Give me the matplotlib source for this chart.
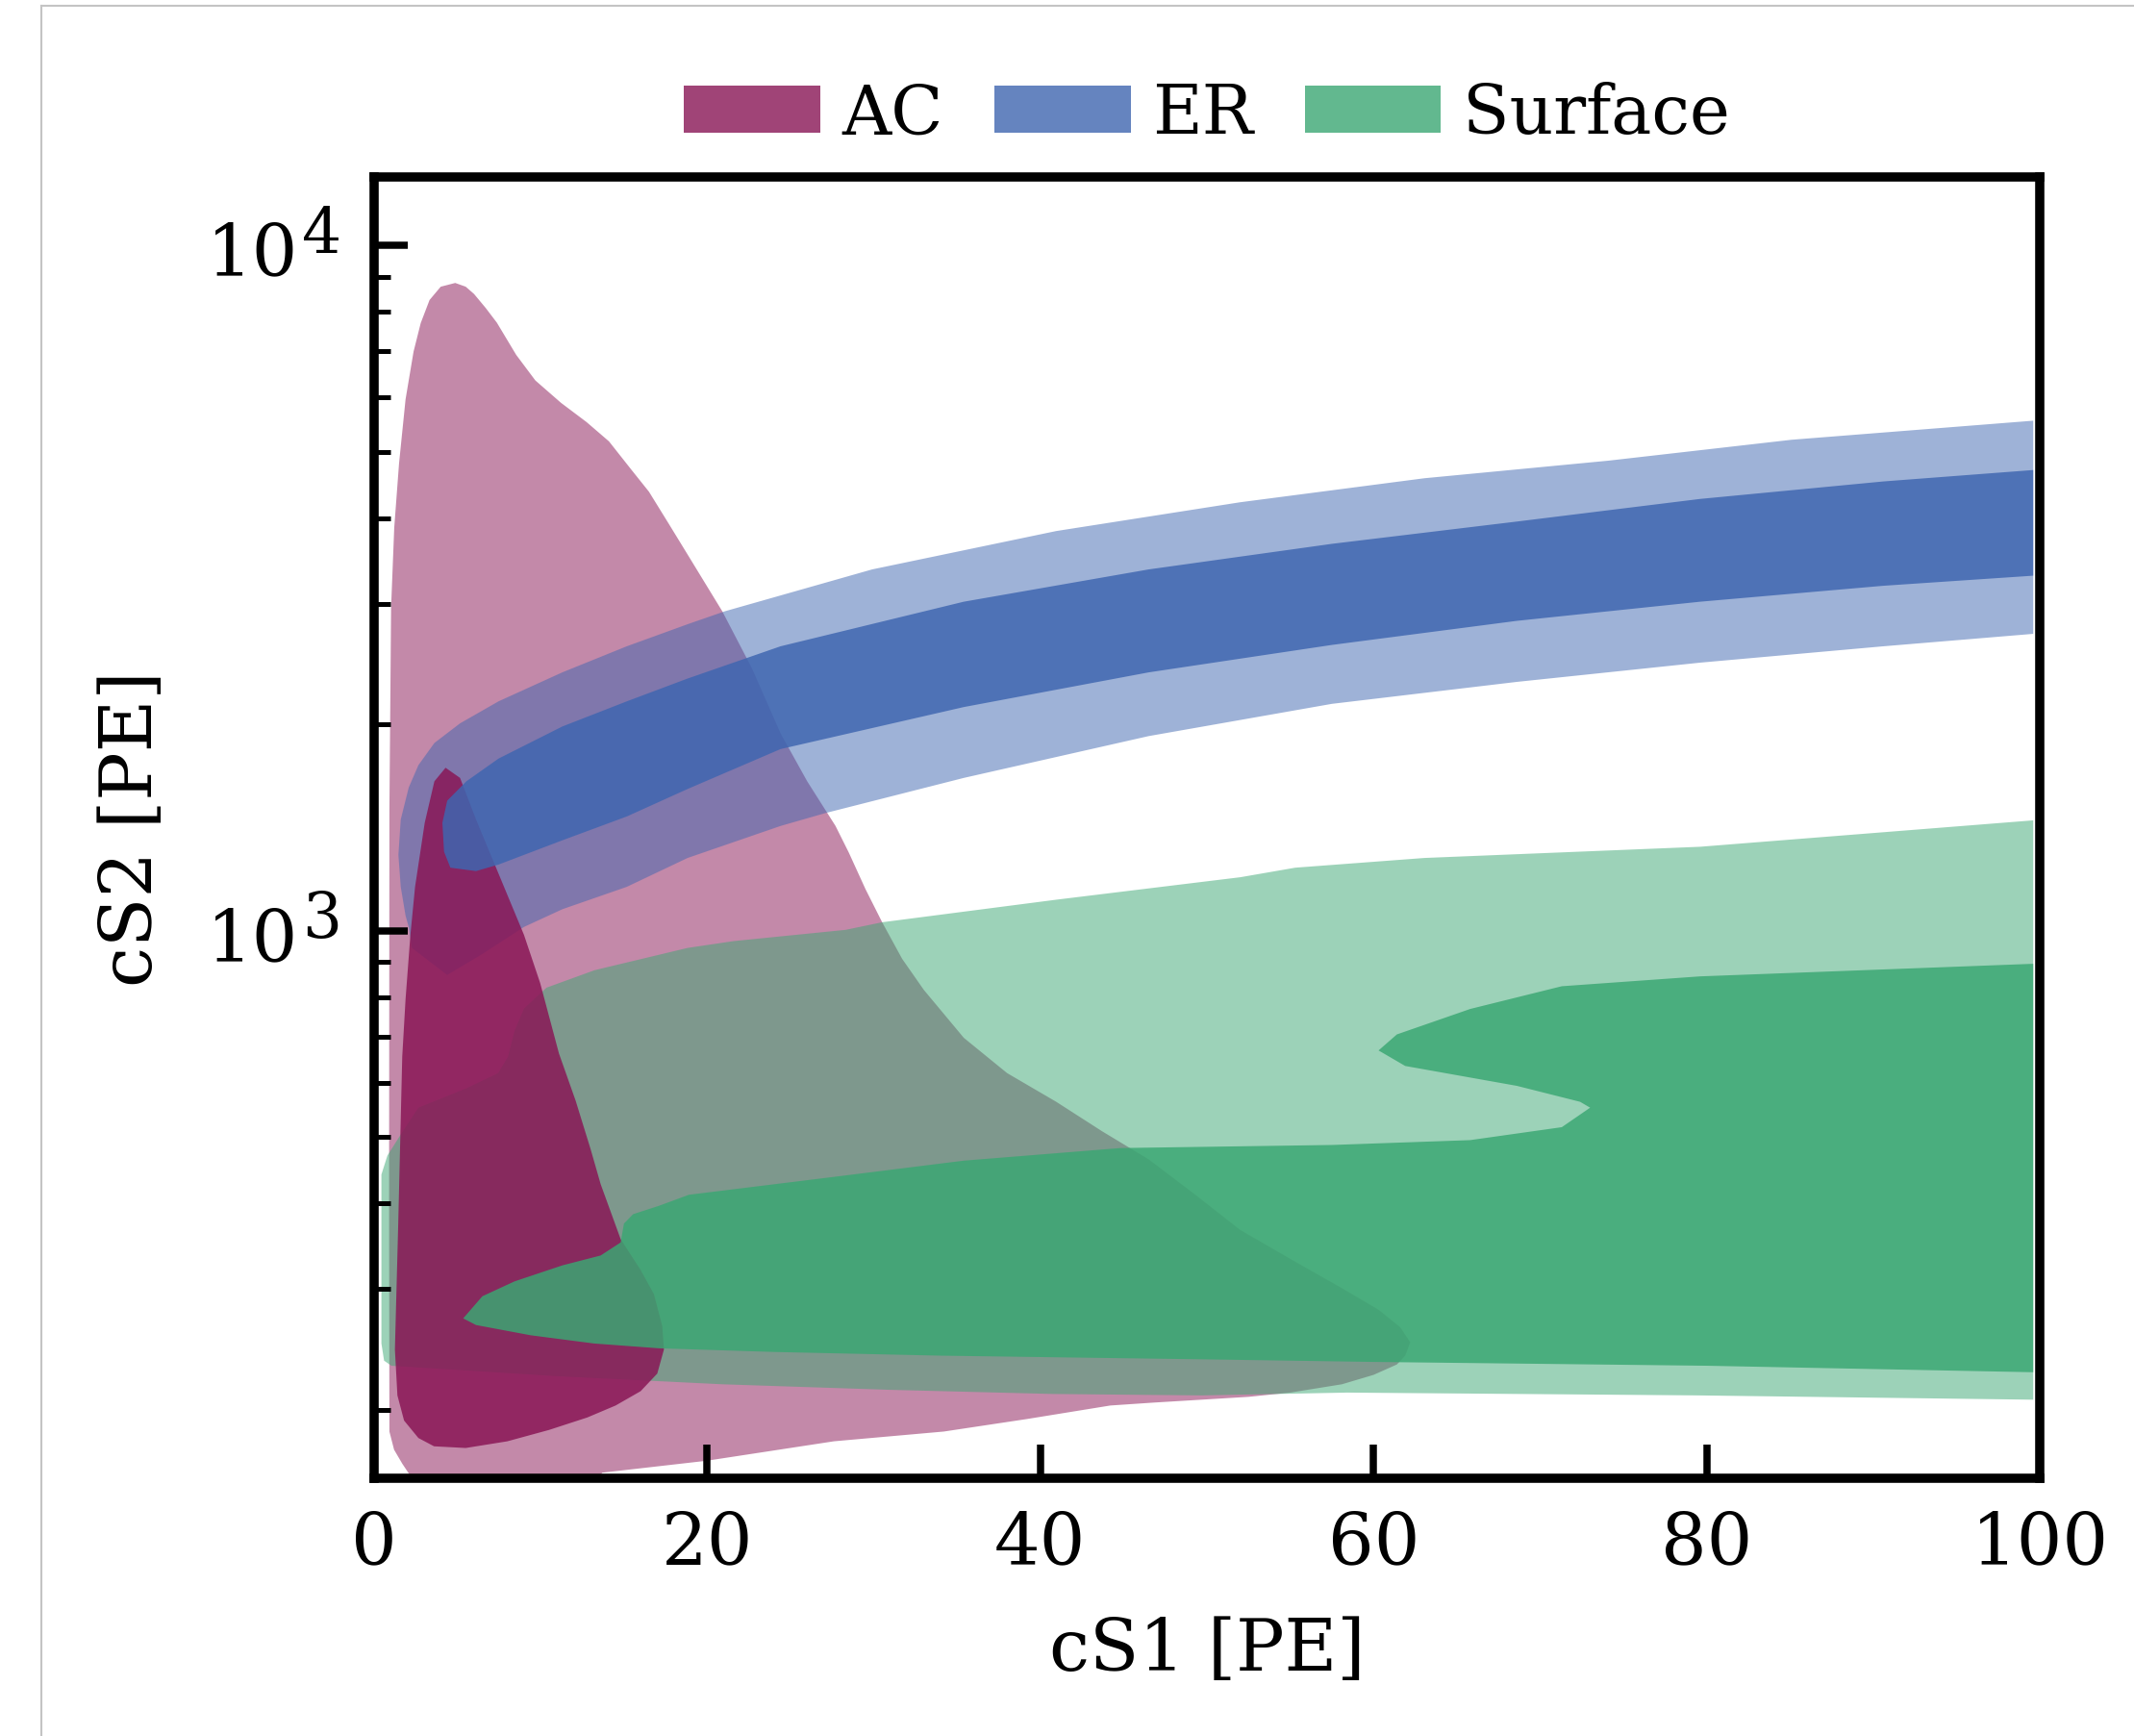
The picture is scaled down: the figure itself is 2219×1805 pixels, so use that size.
import matplotlib.pyplot as plt
from matplotlib.lines import Line2D
from matplotlib.patches import Patch
from matplotlib.ticker import NullFormatter

plt.rcParams['font.family'] = 'DejaVu Serif'
plt.rcParams['mathtext.fontset'] = 'dejavuserif'

# --- contour outlines (cS1 [PE], cS2 [PE]) ---
ac_outer_cs1 = [4.87, 5.5, 6.0, 6.7, 7.37, 8.53, 9.68, 11.22, 12.76, 14.1, 15.46, 16.5,
                17.7, 18.9, 20.9, 22.7, 24.4, 26.0, 27.7, 28.5, 29.5, 30.5, 31.7, 33.0,
                35.4, 38.0, 40.95, 43.7, 46.5, 49.3, 52.0, 55.3, 58.0, 60.3, 61.6, 62.2,
                61.9, 61.4, 60.0, 58.1, 55.0, 52.5, 46.8, 44.2, 39.2, 34.2, 27.6, 19.95,
                13.7, 12.5, 3.0, 2.2, 1.69, 1.2, 0.92, 0.9, 0.92, 1.02, 1.21, 1.50,
                1.89, 2.37, 2.8, 3.33, 4.0]
ac_outer_cs2 = [8810, 8700, 8490, 8100, 7710, 6920, 6350, 5890, 5520, 5175, 4700, 4370,
                3920, 3513, 2925, 2410, 1941, 1652, 1422, 1300, 1150, 1029, 910, 820,
                698, 620, 563, 510, 464, 412, 366, 329, 302, 280, 264, 251,
                240, 233, 225, 218, 212, 209, 205, 203, 194, 186, 180, 168.6,
                162, 150, 150, 160, 167, 175, 186, 400, 1500, 2958, 3873, 4810,
                5960, 6996, 7700, 8320, 8700]

ac_inner_cs1 = [4.29, 5.16, 6.12, 7.08, 8.04, 9.0, 9.97, 11.1, 12.1, 13.0, 13.6, 14.8,
                16.0, 16.8, 17.3, 17.4, 17.0, 16.0, 14.5, 12.8, 10.5, 8.0, 5.5, 3.6,
                2.66, 1.8, 1.40, 1.25, 1.45, 1.69, 1.89, 2.18, 2.46, 3.04, 3.62]
ac_inner_cs2 = [1729, 1671, 1453, 1277, 1122, 986, 839, 662, 565, 480, 427, 355,
                320, 295, 265, 245, 226, 213, 203, 195, 187, 180, 176, 177,
                182, 193, 210, 245, 374, 655, 795, 986, 1159, 1437, 1652]

er_outer_cs1 = [2.27, 2.08, 1.89, 1.60, 1.46, 1.60, 2.08, 2.66, 3.62, 5.16, 7.47, 11.3,
                15.17, 18.82, 21.07, 29.9, 40.95, 52.0, 63.05, 74.1, 85.1, 99.6, 99.6, 90.6,
                79.6, 68.6, 57.5, 46.5, 35.4, 27.1, 24.4, 18.82, 15.17, 11.3, 9.0, 6.5,
                4.39]
er_outer_cs2 = [944, 1013, 1052, 1159, 1290, 1453, 1618, 1744, 1879, 2007, 2161, 2382,
                2600, 2800, 2925, 3366, 3829, 4218, 4572, 4850, 5203, 5547, 2711, 2600,
                2461, 2307, 2143, 1923, 1671, 1485, 1422, 1277, 1159, 1075, 1013, 925,
                862]

er_inner_cs1 = [4.10, 4.39, 5.54, 7.47, 11.3, 15.17, 18.82, 24.4, 35.4, 46.5, 57.5, 68.6,
                79.6, 90.6, 99.6, 99.6, 90.6, 79.6, 68.6, 57.5, 46.5, 35.4, 24.4, 18.82,
                15.17, 11.3, 7.47, 6.12, 4.58, 4.20]
er_inner_cs2 = [1437, 1548, 1652, 1783, 1986, 2161, 2333, 2600, 3020, 3366, 3668, 3953,
                4265, 4523, 4700, 3296, 3186, 3020, 2832, 2612, 2382, 2120, 1841, 1610,
                1468, 1355, 1249, 1222, 1236, 1304]

surf_outer_cs1 = [0.44, 0.8, 1.5, 2.66, 5.54, 7.45, 8.04, 8.43, 9.0, 10.35, 13.24, 18.82,
                  21.6, 28.3, 30.5, 40.95, 52.0, 55.3, 63.05, 79.6, 99.6, 99.6, 79.5, 58.4,
                  49.7, 40.8, 30.9, 20.9, 11.0, 1.04, 0.6, 0.44]
surf_outer_cs2 = [441, 470, 500, 552, 589, 620, 655, 714, 770, 826, 876, 944,
                  966, 1003, 1029, 1110, 1197, 1236, 1277, 1326, 1449, 207, 210, 212,
                  210, 211, 214, 218, 224, 232, 236, 250]

surf_inner_cs1 = [99.6, 79.6, 71.3, 65.8, 61.4, 60.3, 61.9, 68.6, 72.4, 73.0, 71.3, 65.8,
                  57.5, 44.8, 35.4, 27.1, 18.9, 17.1, 15.55, 15.0, 14.8, 13.6, 11.3, 8.43,
                  6.5, 5.35, 6.12, 9.4, 13.2, 17.1, 24.0, 34.0, 50.0, 60.0, 80.0, 99.6]
surf_inner_cs2 = [895, 858, 830, 769, 706, 669, 635, 594, 563, 552, 517, 495,
                  487, 482, 462, 436, 412, 397, 386, 374, 351, 336, 325, 308,
                  293, 272, 266, 257, 250, 246, 243, 240, 237, 235, 232, 227]

labels = ["AC", "ER", "Surface"]
colors = ["#891555", "#3f66b0", "#3ba773"]
outer_levels = [(ac_outer_cs1, ac_outer_cs2), (er_outer_cs1, er_outer_cs2),
                (surf_outer_cs1, surf_outer_cs2)]
inner_levels = [(ac_inner_cs1, ac_inner_cs2), (er_inner_cs1, er_inner_cs2),
                (surf_inner_cs1, surf_inner_cs2)]
y_decades = [3, 4]

fig = plt.figure(figsize=(2219 / 300, 1806 / 300), dpi=300)
ax = fig.add_axes([0.1753, 0.1484, 0.7806, 0.7492])

# outer contour of every sample first, then the inner contours on top
for (xs, ys), c in zip(outer_levels, colors):
    ax.fill(xs, ys, color=c, alpha=0.5, lw=0, zorder=1)
for (xs, ys), c in zip(inner_levels, colors):
    ax.fill(xs, ys, color=c, alpha=0.84, lw=0, zorder=2)

ax.set_yscale('log')
ax.set_xlim(0, 100)
ax.set_ylim(159, 12580)
ax.set_xticks([0, 20, 40, 60, 80, 100])
ax.set_yticks([10.0 ** d for d in y_decades])
ax.yaxis.set_major_formatter(NullFormatter())
ax.yaxis.set_minor_formatter(NullFormatter())

# decade labels with a large exponent, as in the original
for d in y_decades:
    ax.annotate('10', xy=(0, 10.0 ** d), xycoords=('axes fraction', 'data'),
                xytext=(-19.0, -7.4), textcoords='offset points',
                ha='right', va='baseline', fontsize=18)
    ax.annotate(str(d), xy=(0, 10.0 ** d), xycoords=('axes fraction', 'data'),
                xytext=(-17.9, -1.6), textcoords='offset points',
                ha='left', va='baseline', fontsize=15.5)

ax.tick_params(which='both', direction='in', top=False, right=False,
               labelsize=18, pad=7.5)
ax.tick_params(which='major', length=8.5, width=1.8)
ax.tick_params(which='minor', length=4, width=1.2)
for sp in ax.spines.values():
    sp.set_linewidth(2.3)

ax.set_xlabel('cS1 [PE]', fontsize=18, labelpad=9)
ax.set_ylabel('cS2 [PE]', fontsize=18, labelpad=0)
ax.yaxis.set_label_coords(-0.124, 0.5)

handles = [Patch(facecolor=c, alpha=0.8, edgecolor='none', label=l)
           for l, c in zip(labels, colors)]
ax.legend(handles=handles, loc='center', bbox_to_anchor=(0.5, 1.048), ncol=3,
          frameon=False, fontsize=17, handlelength=2.0, handleheight=0.68,
          handletextpad=0.32, columnspacing=0.75, borderaxespad=0, borderpad=0)

# thin grey frame of the original page
fig.add_artist(Line2D([43 / 2219, 1], [1 - 7 / 1806] * 2, color='#c4c4c4', lw=0.5,
                      transform=fig.transFigure))
fig.add_artist(Line2D([43 / 2219] * 2, [0, 1 - 7 / 1806], color='#c4c4c4', lw=0.5,
                      transform=fig.transFigure))

fig.savefig('out.png', dpi=300)
